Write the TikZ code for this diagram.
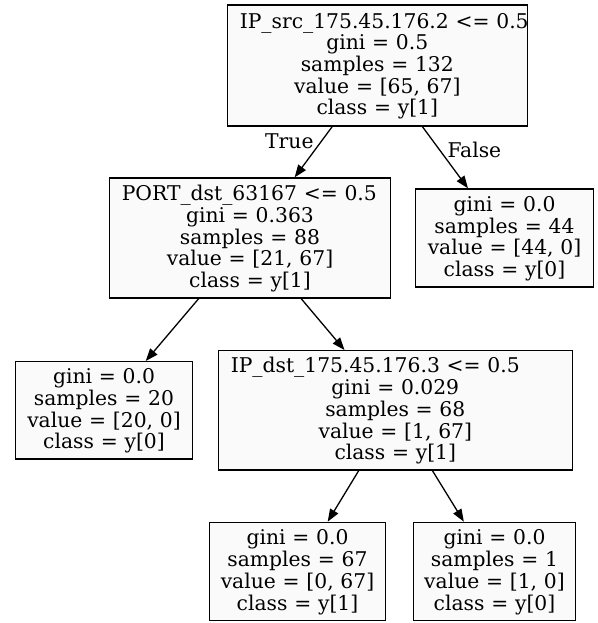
\documentclass[tikz,border=0pt]{standalone}
\usepackage{fontspec}
\setmainfont{DejaVu Serif}
\usetikzlibrary{arrows.meta}
\definecolor{boxfill}{RGB}{250,250,250}
\newcommand\topstrut{\rule{0pt}{18pt}}
\newcommand\botstrut{\rule[-6pt]{0pt}{6pt}}
\newcommand\firstleft[1]{\topstrut\makebox[\hsize][l]{\hspace*{12.5pt}#1}}
\begin{document}
\begin{tikzpicture}[x=1pt,y=-1pt,
  box/.style={draw=black, line width=1.3pt, fill=boxfill, rectangle, inner sep=0pt,
    align=center, font=\fontsize{20.3pt}{21.7pt}\selectfont},
  edge/.style={draw=black, line width=1.3pt, -{Triangle[length=12.5pt,width=9.3pt]}},
  lbl/.style={font=\fontsize{20.3pt}{21.7pt}\selectfont, anchor=base west, inner sep=0pt}]
\useasboundingbox (0,0) rectangle (597,623);

\node[box, text width=300pt, minimum height=121pt] (root) at (377.3,65.5)
  {\firstleft{IP\_src\_175.45.176.2 <= 0.5}\\gini = 0.5\\samples = 132\\value = [65, 67]\\class = y[1]\botstrut};
\node[box, text width=281.4pt, minimum height=120pt] (port) at (250,238)
  {\firstleft{PORT\_dst\_63167 <= 0.5}\\gini = 0.363\\samples = 88\\value = [21, 67]\\class = y[1]\botstrut};
\node[box, text width=177.6pt, minimum height=98pt] (rleaf) at (504.5,238)
  {\topstrut gini = 0.0\\samples = 44\\value = [44, 0]\\class = y[0]\botstrut};
\node[box, text width=176.6pt, minimum height=97.3pt] (l20) at (104,410.3)
  {\topstrut gini = 0.0\\samples = 20\\value = [20, 0]\\class = y[0]\botstrut};
\node[box, text width=354pt, minimum height=119.3pt] (ipdst) at (395.3,410.3)
  {\firstleft{IP\_dst\_175.45.176.3 <= 0.5}\\gini = 0.029\\samples = 68\\value = [1, 67]\\class = y[1]\botstrut};
\node[box, text width=176.4pt, minimum height=98.4pt] (l67) at (297.5,571.5)
  {\topstrut gini = 0.0\\samples = 67\\value = [0, 67]\\class = y[1]\botstrut};
\node[box, text width=162.4pt, minimum height=98.4pt] (l1) at (494.5,571.5)
  {\topstrut gini = 0.0\\samples = 1\\value = [1, 0]\\class = y[0]\botstrut};

\draw[edge] (root) -- (port);
\draw[edge] (root) -- (rleaf);
\draw[edge] (port) -- (l20);
\draw[edge] (port) -- (ipdst);
\draw[edge] (ipdst) -- (l67);
\draw[edge] (ipdst) -- (l1);

\node[lbl] (ltrue) at (265,148.3) {True};
\node[lbl] (lfalse) at (447.3,157.3) {False};
\end{tikzpicture}
\end{document}
